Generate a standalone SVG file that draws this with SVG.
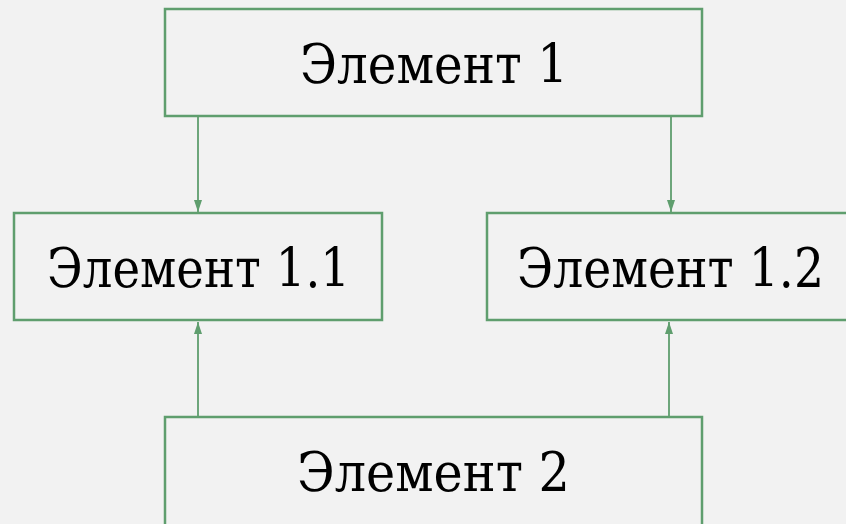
<svg xmlns="http://www.w3.org/2000/svg" width="846" height="524" viewBox="0 0 846 524">
<defs>
<marker id="arr" viewBox="0 0 12 8" refX="12" refY="4" markerWidth="12" markerHeight="8" markerUnits="userSpaceOnUse" orient="auto">
<path d="M0,0 L12,4 L0,8 Z" fill="#5f9e6e"/>
</marker>
<style>
.box{fill:#f2f2f2;stroke:#5f9e6e;stroke-width:2.5}
.lbl{font-family:"Roboto Slab","DejaVu Serif","Liberation Serif",serif;font-size:54px;fill:#000;text-anchor:start}
.con{stroke:#5f9e6e;stroke-width:1.8;fill:none}
</style>
</defs>
<rect width="846" height="524" fill="#f2f2f2"/>
<g id="connectors">
<line class="con" x1="198" y1="116" x2="198" y2="212" marker-end="url(#arr)"/>
<line class="con" x1="671" y1="116" x2="671" y2="212" marker-end="url(#arr)"/>
<line class="con" x1="198" y1="418" x2="198" y2="322" marker-end="url(#arr)"/>
<line class="con" x1="669" y1="417" x2="669" y2="322" marker-end="url(#arr)"/>
</g>
<g id="node1">
<rect class="box" x="165" y="9" width="537" height="107"/>
<text class="lbl" x="300" y="83" textLength="268" lengthAdjust="spacingAndGlyphs">Элемент 1</text>
</g>
<g id="node11">
<rect class="box" x="14" y="213" width="368" height="107"/>
<text class="lbl" x="47" y="287" textLength="303" lengthAdjust="spacingAndGlyphs">Элемент 1.1</text>
</g>
<g id="node12">
<rect class="box" x="487" y="213" width="370" height="107"/>
<text class="lbl" x="517" y="287" textLength="307" lengthAdjust="spacingAndGlyphs">Элемент 1.2</text>
</g>
<g id="node2">
<rect class="box" x="165" y="417" width="537" height="120"/>
<text class="lbl" x="297" y="491" textLength="273" lengthAdjust="spacingAndGlyphs">Элемент 2</text>
</g>
</svg>
